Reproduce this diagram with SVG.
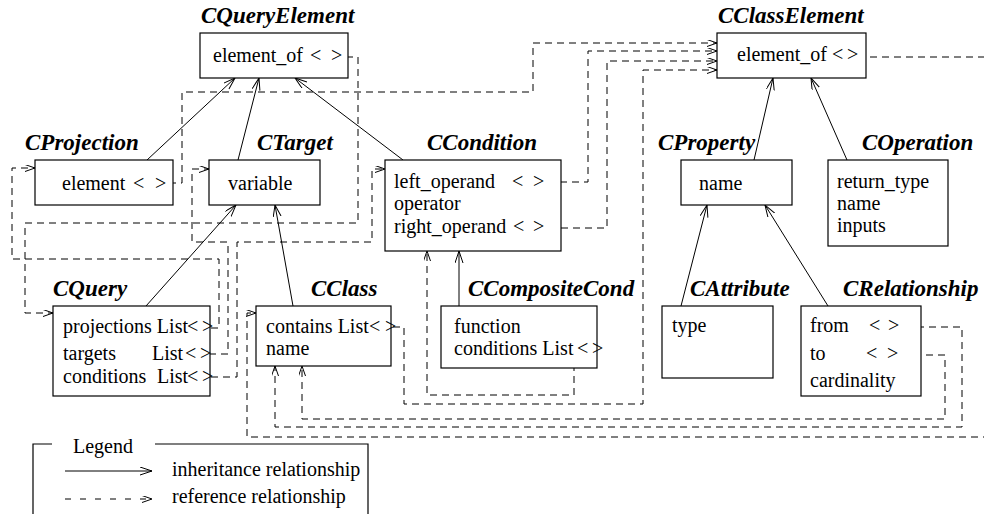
<svg xmlns="http://www.w3.org/2000/svg" width="984" height="514" viewBox="0 0 984 514">
<style>
.box{fill:#fff;stroke:#000;stroke-width:1.2}
.t{font-family:"Liberation Serif","Times New Roman",serif;font-size:20px;fill:#000}
.h{font-family:"Liberation Serif","Times New Roman",serif;font-size:23px;font-weight:bold;font-style:italic;fill:#000}
.inh{fill:none;stroke:#000;stroke-width:1;marker-end:url(#open)}
.ref{fill:none;stroke:#000;stroke-width:1;stroke-dasharray:7 5;marker-end:url(#ropen)}
.lg{fill:none;stroke:#000;stroke-width:1.2}
</style>
<defs>
<marker id="open" markerWidth="14" markerHeight="10" refX="12" refY="4" orient="auto" markerUnits="userSpaceOnUse"><path d="M0,0 L12,4 L0,8" fill="none" stroke="#000" stroke-width="1"/></marker>
<marker id="ropen" markerWidth="12" markerHeight="9" refX="10" refY="3.5" orient="auto" markerUnits="userSpaceOnUse"><path d="M0,0 L10,3.5 L0,7" fill="none" stroke="#000" stroke-width="1"/></marker>
</defs>

<g id="connectors">
<path class="inh" d="M147,160 L235,78"/>
<path class="inh" d="M238,160 L259,78"/>
<path class="inh" d="M403,160 L295,78"/>
<path class="inh" d="M146,306 L236,205"/>
<path class="inh" d="M293,306 L275,205"/>
<path class="inh" d="M459,306 L459,251"/>
<path class="inh" d="M754,160 L773,78"/>
<path class="inh" d="M847,160 L811,78"/>
<path class="inh" d="M681,306 L707,205"/>
<path class="inh" d="M828,306 L765,205"/>

<path class="ref" d="M145,183 H182 V92 H533 V43 H717"/>
<path class="ref" d="M322,57 H358 V223 H25 V313 H53"/>
<path class="ref" d="M199,328 H219 V259 H12 V168 H35"/>
<path class="ref" d="M197,354 H228 V242 H192 V169 H209"/>
<path class="ref" d="M199,377 H237 V242 H372 V169 H385"/>
<path class="ref" d="M524,182 H588 V51 H717"/>
<path class="ref" d="M525,228 H607 V61 H717"/>
<path class="ref" d="M381,327 H404 V404 H643 V70 H717"/>
<path class="ref" d="M574,352 V395 H427 V251"/>
<path class="ref" d="M881,327 H962 V427 H275 V366"/>
<path class="ref" d="M878,355 H945 V419 H302 V366"/>
<path class="ref" d="M858,57 H992 V437 H247 V313 H256"/>
</g>

<g id="CQueryElement">
<rect class="box" x="200" y="33" width="148" height="45"/>
<text class="h" x="201" y="23">CQueryElement</text>
<text class="t" x="213" y="62">element_of</text>
<text class="t" y="62"><tspan x="310">&lt;</tspan><tspan x="331">&gt;</tspan></text>
</g>

<g id="CProjection">
<rect class="box" x="35" y="160" width="138" height="45"/>
<text class="h" x="25" y="150">CProjection</text>
<text class="t" x="62" y="190">element</text>
<text class="t" y="190"><tspan x="133">&lt;</tspan><tspan x="155">&gt;</tspan></text>
</g>

<g id="CTarget">
<rect class="box" x="209" y="160" width="111" height="45"/>
<text class="h" x="257" y="150">CTarget</text>
<text class="t" x="228" y="190">variable</text>
</g>

<g id="CCondition">
<rect class="box" x="385" y="160" width="176" height="91"/>
<text class="h" x="427" y="150">CCondition</text>
<text class="t" x="394" y="188">left_operand</text>
<text class="t" y="188"><tspan x="512">&lt;</tspan><tspan x="533">&gt;</tspan></text>
<text class="t" x="394" y="210">operator</text>
<text class="t" x="394" y="233">right_operand</text>
<text class="t" y="233"><tspan x="513">&lt;</tspan><tspan x="533">&gt;</tspan></text>
</g>

<g id="CClassElement">
<rect class="box" x="717" y="33" width="149" height="45"/>
<text class="h" x="718" y="23">CClassElement</text>
<text class="t" x="737" y="61">element_of</text>
<text class="t" y="61"><tspan x="832">&lt;</tspan><tspan x="847">&gt;</tspan></text>
</g>

<g id="CProperty">
<rect class="box" x="681" y="160" width="111" height="45"/>
<text class="h" x="658" y="150">CProperty</text>
<text class="t" x="699" y="190">name</text>
</g>

<g id="COperation">
<rect class="box" x="828" y="160" width="120" height="86"/>
<text class="h" x="862" y="150">COperation</text>
<text class="t" x="837" y="188">return_type</text>
<text class="t" x="837" y="210">name</text>
<text class="t" x="837" y="232">inputs</text>
</g>

<g id="CQuery">
<rect class="box" x="53" y="306" width="157" height="90"/>
<text class="h" x="53" y="296">CQuery</text>
<text class="t" x="63" y="333">projections List</text>
<text class="t" y="333"><tspan x="187">&lt;</tspan><tspan x="202">&gt;</tspan></text>
<text class="t" x="63" y="360">targets</text>
<text class="t" x="152" y="360">List</text>
<text class="t" y="360"><tspan x="185">&lt;</tspan><tspan x="200">&gt;</tspan></text>
<text class="t" x="63" y="383">conditions</text>
<text class="t" x="157" y="383">List</text>
<text class="t" y="383"><tspan x="187">&lt;</tspan><tspan x="202">&gt;</tspan></text>
</g>

<g id="CClass">
<rect class="box" x="256" y="306" width="135" height="60"/>
<text class="h" x="311" y="296">CClass</text>
<text class="t" x="266" y="333">contains List</text>
<text class="t" y="333"><tspan x="369">&lt;</tspan><tspan x="385">&gt;</tspan></text>
<text class="t" x="266" y="355">name</text>
</g>

<g id="CCompositeCond">
<rect class="box" x="441" y="306" width="156" height="62"/>
<text class="h" x="468" y="296">CCompositeCond</text>
<text class="t" x="454" y="333">function</text>
<text class="t" x="454" y="355">conditions List</text>
<text class="t" y="355"><tspan x="577">&lt;</tspan><tspan x="592">&gt;</tspan></text>
</g>

<g id="CAttribute">
<rect class="box" x="662" y="306" width="111" height="72"/>
<text class="h" x="690" y="296">CAttribute</text>
<text class="t" x="672" y="332">type</text>
</g>

<g id="CRelationship">
<rect class="box" x="801" y="306" width="120" height="90"/>
<text class="h" x="843" y="296">CRelationship</text>
<text class="t" x="810" y="332">from</text>
<text class="t" y="332"><tspan x="869">&lt;</tspan><tspan x="888">&gt;</tspan></text>
<text class="t" x="810" y="360">to</text>
<text class="t" y="360"><tspan x="866">&lt;</tspan><tspan x="887">&gt;</tspan></text>
<text class="t" x="810" y="387">cardinality</text>
</g>

<g id="legend">
<path class="lg" d="M33,514 V444 H52 M155,444 H368 V514"/>
<text class="t" x="73" y="453">Legend</text>
<path class="inh" d="M65,471 H152"/>
<text class="t" x="172" y="476">inheritance relationship</text>
<path class="ref" style="stroke-dasharray:6 9" d="M65,499 H152"/>
<text class="t" x="172" y="503">reference relationship</text>
</g>
</svg>
